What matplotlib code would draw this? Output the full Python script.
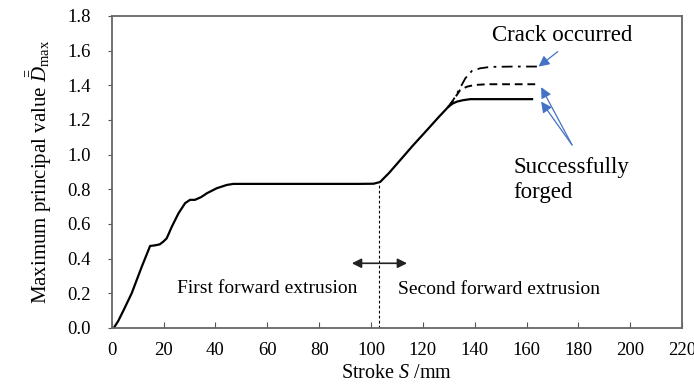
import matplotlib
matplotlib.use("Agg")
import matplotlib.pyplot as plt

plt.rcParams["font.family"] = ["Liberation Serif", "DejaVu Serif"]
plt.rcParams["mathtext.fontset"] = "custom"
plt.rcParams["mathtext.rm"] = "Liberation Serif"
plt.rcParams["mathtext.it"] = "Liberation Serif:italic"

# Common path: stroke (mm) vs maximum principal value
stroke_common = [0.8, 2.5, 4.5, 7.7, 11.6, 14.8, 16.5, 18.5, 19.9, 21.2, 23.2, 25.7,
                 28.3, 30.2, 32.1, 34.5, 36.7, 40.5, 44.4, 46.9, 55, 65, 75, 85,
                 95, 101, 103.5, 107, 111.3, 116, 121.6, 126, 129.9]
damage_common = [0.0, 0.04, 0.100, 0.20, 0.354, 0.473, 0.476, 0.482, 0.498, 0.517,
                 0.585, 0.66, 0.72, 0.739, 0.739, 0.755, 0.777, 0.806, 0.825, 0.831,
                 0.831, 0.831, 0.831, 0.831, 0.831, 0.832, 0.842, 0.895, 0.969,
                 1.05, 1.142, 1.215, 1.277]

# Branches after the second extrusion knee
stroke_solid = [129.9, 131.5, 133.2, 135.5, 138.3, 142, 150, 162.1]
damage_solid = [1.277, 1.295, 1.306, 1.314, 1.32, 1.32, 1.32, 1.32]

stroke_dash = [129.9, 131.8, 134.4, 137.0, 140, 145, 155, 163.4]
damage_dash = [1.277, 1.316, 1.373, 1.392, 1.402, 1.406, 1.406, 1.406]

stroke_dashdot = [129.9, 131.5, 133.2, 136.4, 138.9, 142.1, 146, 155, 164.0]
damage_dashdot = [1.277, 1.31, 1.354, 1.441, 1.483, 1.498, 1.506, 1.508, 1.508]

boundary_stroke = 103.0

fig, ax = plt.subplots(figsize=(6.94, 3.89), dpi=100)
fig.subplots_adjust(left=0.161, right=0.983, bottom=0.157, top=0.959)

ax.plot(stroke_common, damage_common, color="black", lw=1.6)
ax.plot(stroke_solid, damage_solid, color="black", lw=1.6)
ax.plot(stroke_dash, damage_dash, color="black", lw=1.4, ls=(0, (4, 2.5)))
ax.plot(stroke_dashdot, damage_dashdot, color="black", lw=1.3, ls=(0, (6, 3, 1.5, 3)))

# boundary between the two extrusion stages
ax.plot([boundary_stroke, boundary_stroke], [0, 0.832], color="black", lw=0.8,
        ls=(0, (2.5, 2)))
ax.annotate("", xy=(92.6, 0.373), xytext=(113.9, 0.373),
            arrowprops=dict(arrowstyle="<|-|>", color="#222222", lw=1.2,
                            mutation_scale=14, shrinkA=0, shrinkB=0))

ax.text(60.1, 0.229, "First forward extrusion", ha="center", va="center", fontsize=14)
ax.text(149.5, 0.222, "Second forward extrusion", ha="center", va="center", fontsize=14)
ax.text(173.7, 1.69, "Crack occurred", ha="center", va="center", fontsize=16.5)
ax.text(155, 0.854, "Successfully\nforged", ha="left", va="center", fontsize=16.5,
        linespacing=1.25)

blue = "#4472C4"
arrow_kw = dict(arrowstyle="-|>", color=blue, lw=0.9, mutation_scale=16,
                shrinkA=0, shrinkB=0)
ax.annotate("", xy=(164.6, 1.508), xytext=(172.0, 1.594), arrowprops=arrow_kw)
ax.annotate("", xy=(165.6, 1.389), xytext=(177.5, 1.056), arrowprops=arrow_kw)
ax.annotate("", xy=(165.6, 1.306), xytext=(177.5, 1.056), arrowprops=arrow_kw)

ax.set_xlim(0, 220)
ax.set_ylim(0, 1.8)
ax.set_xticks(range(0, 221, 20))
ax.set_yticks([i * 0.2 for i in range(10)])
ax.set_yticklabels([f"{i * 0.2:.1f}" for i in range(10)])
ax.tick_params(axis="x", direction="in", length=4, labelsize=13.5, pad=10, color="#555555")
ax.tick_params(axis="y", direction="out", length=3, labelsize=13.5, pad=12, color="#555555")
for sp in ax.spines.values():
    sp.set_color("#666666")
    sp.set_linewidth(1.3)

ax.set_xlabel("Stroke $S$ /mm", fontsize=14.5, labelpad=4)
ax.set_ylabel(r"Maximum principal value $\bar{\bar{D}}_{\rm max}$", fontsize=15,
              labelpad=10)

fig.savefig("out.png", dpi=100)
